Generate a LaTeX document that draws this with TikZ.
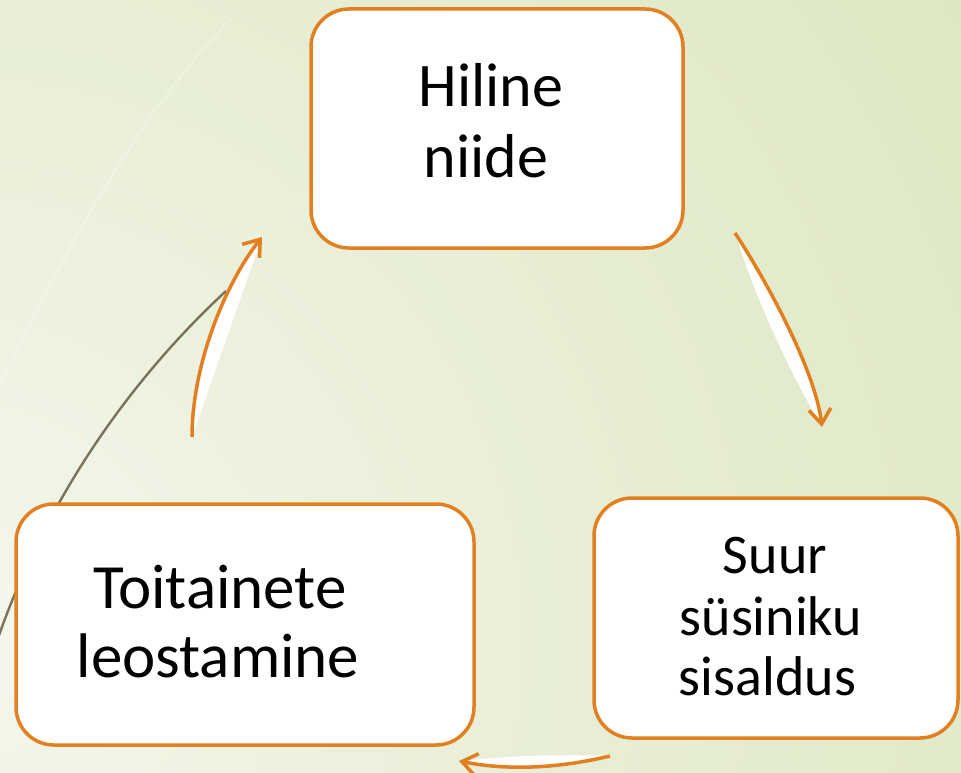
\documentclass[tikz,border=0pt]{standalone}
\usepackage{fontspec}
\setmainfont{Carlito}
\usetikzlibrary{arrows.meta}
\definecolor{orng}{RGB}{226,127,32}
\definecolor{olivel}{RGB}{122,115,92}
\definecolor{bgA}{RGB}{244,247,236}
\definecolor{bgB}{RGB}{233,239,216}
\definecolor{bgC}{RGB}{220,231,193}
\pgfdeclareradialshading{bgsh}{\pgfpointorigin}{color(0bp)=(bgA); color(11bp)=(bgB); color(25bp)=(bgC); color(50bp)=(bgC)}
\begin{document}
\begin{tikzpicture}[x=1pt,y=-1pt,
  box/.style={draw=orng, line width=3.5pt, fill=white, rounded corners=38pt, inner sep=0pt, outer sep=0pt},
  bigtxt/.style={anchor=base, inner sep=0pt, font=\fontsize{63}{70}\selectfont},
  toptxt/.style={anchor=base, inner sep=0pt, font=\fontsize{62}{70}\selectfont},
  smalltxt/.style={anchor=base, inner sep=0pt, font=\fontsize{56}{61}\selectfont},
  cyclearrow/.style={draw=orng, line width=3.5pt, -{Straight Barb[length=15pt,width=22pt]}},
  crescent/.style={fill=white}]
\useasboundingbox (0,0) rectangle (961,773);
% background
\begin{scope}
\clip (0,0) rectangle (961,773);
\shade[shading=bgsh] (-40,640) circle (1250);
\draw[white, opacity=0.22, line width=3pt] (-2,388) .. controls (60,260) and (140,110) .. (232,18);
\end{scope}
% decorative olive curve
\coordinate (o1) at (-4,644);
\coordinate (o2) at (226,291);
\draw[olivel, line width=2.4pt] (o1) .. controls (45,500) and (130,380) .. (o2);
% boxes
\node[box, minimum width=372pt, minimum height=239pt] (top) at (497,128.5) {};
\node[box, minimum width=364pt, minimum height=240pt] (right) at (776,618) {};
\node[box, minimum width=458pt, minimum height=241pt] (left) at (245,624.5) {};
% arrows
\coordinate (a1s) at (735,233);
\coordinate (a1t) at (822,427);
\fill[crescent] (a1s) .. controls (762.5,274.5) and (815,368) .. (a1t) .. controls (786,365) and (757,301) .. (a1s) -- cycle;
\draw[cyclearrow] (a1s) .. controls (762.5,274.5) and (815,368) .. (a1t);
\coordinate (a2s) at (610,756);
\coordinate (a2t) at (459,761);
\fill[crescent] (a2s) .. controls (560,768) and (509,771) .. (a2t) .. controls (509,756) and (560,754) .. (a2s) -- cycle;
\draw[cyclearrow] (a2s) .. controls (560,768) and (509,771) .. (a2t);
\coordinate (a3s) at (192,437);
\coordinate (a3t) at (262,237);
\fill[crescent] (a3s) .. controls (192,365) and (225,284) .. (a3t) -- cycle;
\draw[cyclearrow] (a3s) .. controls (192,365) and (225,284) .. (a3t);
% texts
\node[toptxt] (t1a) at (491,107) {Hiline};
\node[toptxt] (t1b) at (486,177) {niide};
\node[smalltxt] (t2a) at (775,573) {Suur};
\node[smalltxt] (t2b) at (771,635) {süsiniku};
\node[smalltxt] (t2c) at (767.5,695) {sisaldus};
\node[bigtxt] (t3a) at (220,608) {Toitainete};
\node[bigtxt] (t3b) at (218,677) {leostamine};
\end{tikzpicture}
\end{document}
